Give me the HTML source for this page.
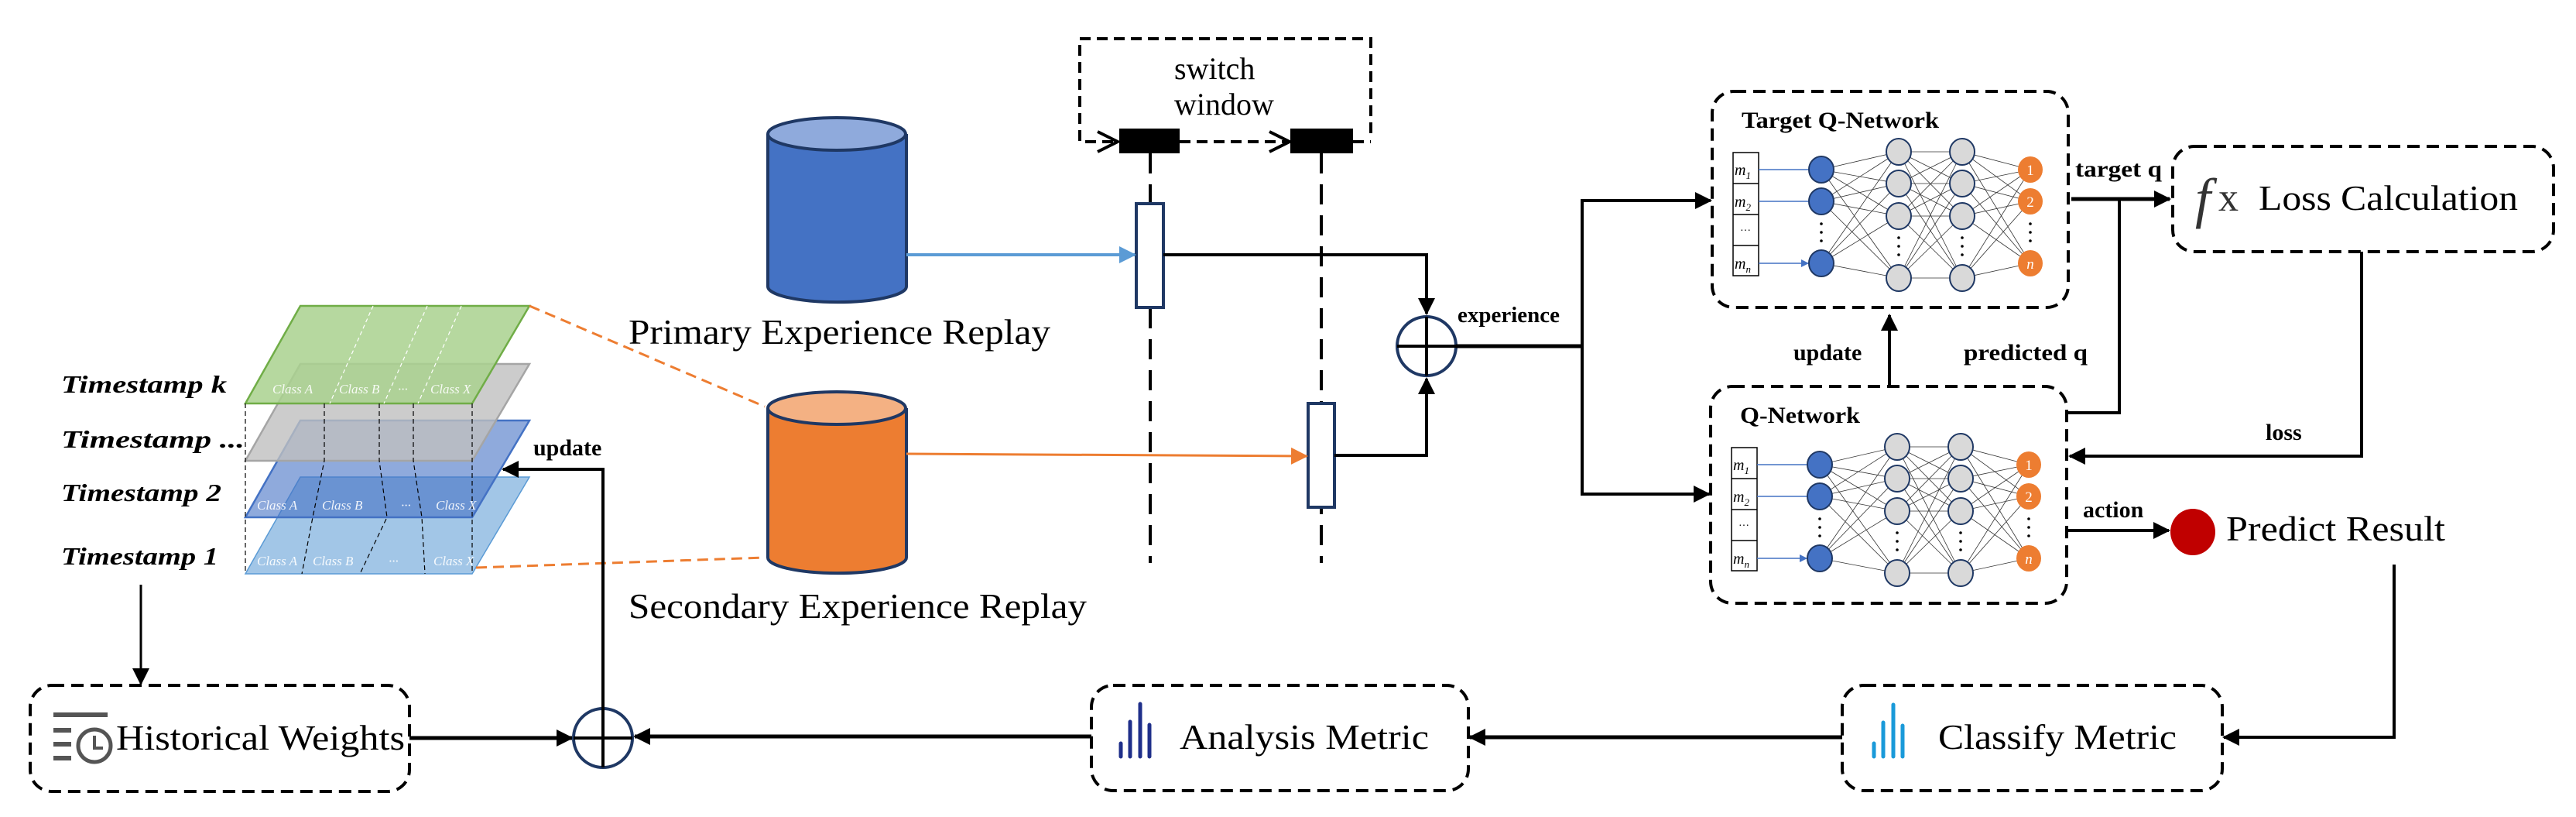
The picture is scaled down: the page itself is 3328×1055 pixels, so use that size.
<!DOCTYPE html>
<html><head><meta charset="utf-8"><style>
html,body{margin:0;padding:0;background:#fff;}
svg{display:block;}
text{font-family:"Liberation Serif",serif;}
</style></head><body>
<svg width="3328" height="1055" viewBox="0 0 3328 1055" xmlns="http://www.w3.org/2000/svg">
<defs>
<marker id="ahb" markerWidth="22" markerHeight="22" refX="20" refY="11" orient="auto" markerUnits="userSpaceOnUse" viewBox="0 0 22 22"><path d="M0 0L22 11L0 22z" fill="#000"/></marker>
<marker id="ahblue" markerWidth="22" markerHeight="22" refX="20" refY="11" orient="auto" markerUnits="userSpaceOnUse" viewBox="0 0 22 22"><path d="M0 0L22 11L0 22z" fill="#5b9bd5"/></marker>
<marker id="ahor" markerWidth="22" markerHeight="22" refX="20" refY="11" orient="auto" markerUnits="userSpaceOnUse" viewBox="0 0 22 22"><path d="M0 0L22 11L0 22z" fill="#ed7d31"/></marker>
<marker id="ahs" markerWidth="10" markerHeight="10" refX="9" refY="5" orient="auto" markerUnits="userSpaceOnUse" viewBox="0 0 10 10"><path d="M0 0L10 5L0 10z" fill="#4472c4"/></marker>
<g id="net">
<path fill="none" stroke="#333" stroke-width="0.8" d="M2353 219L2453 196M2353 219L2453 237M2353 219L2453 279M2353 219L2453 359M2353 260L2453 196M2353 260L2453 237M2353 260L2453 279M2353 260L2453 359M2353 340L2453 196M2353 340L2453 237M2353 340L2453 279M2353 340L2453 359
M2453 196L2535 196M2453 196L2535 237M2453 196L2535 279M2453 196L2535 359M2453 237L2535 196M2453 237L2535 237M2453 237L2535 279M2453 237L2535 359M2453 279L2535 196M2453 279L2535 237M2453 279L2535 279M2453 279L2535 359M2453 359L2535 196M2453 359L2535 237M2453 359L2535 279M2453 359L2535 359
M2535 196L2623 219M2535 196L2623 260M2535 196L2623 340M2535 237L2623 219M2535 237L2623 260M2535 237L2623 340M2535 279L2623 219M2535 279L2623 260M2535 279L2623 340M2535 359L2623 219M2535 359L2623 260M2535 359L2623 340"/>
<rect x="2239" y="197" width="33" height="159" fill="#fff" stroke="#000" stroke-width="1.5"/>
<path d="M2239 237H2272M2239 277H2272M2239 317H2272" stroke="#000" stroke-width="1.5"/>
<path d="M2272 219H2336M2272 260H2336M2272 340H2336" stroke="#4472c4" stroke-width="1.5" marker-end="url(#ahs)"/>
<g fill="#4472c4" stroke="#1f3864" stroke-width="2"><ellipse cx="2353" cy="219" rx="16" ry="17"/><ellipse cx="2353" cy="260" rx="16" ry="17"/><ellipse cx="2353" cy="340" rx="16" ry="17"/></g>
<g fill="#d9d9d9" stroke="#1f3864" stroke-width="2"><ellipse cx="2453" cy="196" rx="16" ry="17"/><ellipse cx="2453" cy="237" rx="16" ry="17"/><ellipse cx="2453" cy="279" rx="16" ry="17"/><ellipse cx="2453" cy="359" rx="16" ry="17"/><ellipse cx="2535" cy="196" rx="16" ry="17"/><ellipse cx="2535" cy="237" rx="16" ry="17"/><ellipse cx="2535" cy="279" rx="16" ry="17"/><ellipse cx="2535" cy="359" rx="16" ry="17"/></g>
<g fill="#ed7d31"><ellipse cx="2623" cy="219" rx="16" ry="17"/><ellipse cx="2623" cy="260" rx="16" ry="17"/><ellipse cx="2623" cy="340" rx="16" ry="17"/></g>
<g fill="#000"><circle cx="2353" cy="289" r="1.8"/><circle cx="2353" cy="300" r="1.8"/><circle cx="2353" cy="311" r="1.8"/><circle cx="2453" cy="307" r="1.8"/><circle cx="2453" cy="318" r="1.8"/><circle cx="2453" cy="329" r="1.8"/><circle cx="2535" cy="307" r="1.8"/><circle cx="2535" cy="318" r="1.8"/><circle cx="2535" cy="329" r="1.8"/><circle cx="2623" cy="289" r="1.8"/><circle cx="2623" cy="300" r="1.8"/><circle cx="2623" cy="311" r="1.8"/></g>
</g>
</defs>

<polygon points="388,616 684,616 610,741 317,741" fill="#9dc3e6" fill-opacity="0.95" stroke="#5b9bd5" stroke-width="1.5"/>
<polygon points="388,543 684,543 610,668 317,668" fill="#4472c4" fill-opacity="0.6" stroke="#4472c4" stroke-width="2.5"/>
<polygon points="388,470 684,470 610,595 317,595" fill="#bfbfbf" fill-opacity="0.8" stroke="#a5a5a5" stroke-width="2.5"/>
<polygon points="388,395 684,395 610,521 317,521" fill="#a9d18e" fill-opacity="0.85" stroke="#70ad47" stroke-width="2.5"/>
<g stroke="#fff" stroke-width="1.2" stroke-dasharray="5 4" fill="none"><path d="M482 395L426 521M552 395L496 521M596 395L540 521"/></g>
<g stroke="#000" stroke-width="1.2" stroke-dasharray="6 4" fill="none"><path d="M419 521V595L404 668L390 741M490 521V595L500 668L465 741M534 521V595L545 668L549 741M610 521V741M317 521V741"/></g>
<g fill="#fff" font-size="17" font-style="italic" fill-opacity="0.9"><text x="352" y="508">Class A</text><text x="438" y="508">Class B</text><text x="514" y="508">···</text><text x="556" y="508">Class X</text>
<text x="332" y="658">Class A</text><text x="416" y="658">Class B</text><text x="518" y="658">···</text><text x="563" y="658">Class X</text>
<text x="332" y="730">Class A</text><text x="404" y="730">Class B</text><text x="502" y="730">···</text><text x="560" y="730">Class X</text></g>
<g font-size="32" font-weight="bold" font-style="italic"><text x="79" y="507" textLength="214" lengthAdjust="spacingAndGlyphs">Timestamp k</text><text x="79" y="578" textLength="237" lengthAdjust="spacingAndGlyphs">Timestamp ...</text><text x="79" y="647" textLength="207" lengthAdjust="spacingAndGlyphs">Timestamp 2</text><text x="79" y="729" textLength="203" lengthAdjust="spacingAndGlyphs">Timestamp 1</text></g>

<path d="M684 395L988 525M615 733L988 720" stroke="#ed7d31" stroke-width="3" stroke-dasharray="14 8" fill="none"/>

<path d="M992 173V370A89 20 0 0 0 1171 370V173" fill="#4472c4" stroke="#1f3864" stroke-width="4"/>
<ellipse cx="1081" cy="173" rx="89" ry="21" fill="#8faadc" stroke="#1f3864" stroke-width="4"/>
<path d="M992 527V720A89 20 0 0 0 1171 720V527" fill="#ed7d31" stroke="#1f3864" stroke-width="4"/>
<ellipse cx="1081" cy="527" rx="89" ry="21" fill="#f4b183" stroke="#1f3864" stroke-width="4"/>
<text x="812" y="444" font-size="46" textLength="545" lengthAdjust="spacingAndGlyphs">Primary Experience Replay</text>
<text x="812" y="798" font-size="46" textLength="592" lengthAdjust="spacingAndGlyphs">Secondary Experience Replay</text>

<path d="M1395 160V50H1771V180" fill="none" stroke="#000" stroke-width="4" stroke-dasharray="14 8"/>
<path d="M1395 168V183H1440M1524 183H1664M1748 183H1771" fill="none" stroke="#000" stroke-width="4" stroke-dasharray="14 8"/>
<path d="M1418 170L1444 183L1418 196M1640 170L1666 183L1640 196" fill="none" stroke="#000" stroke-width="4"/>
<rect x="1446" y="166" width="78" height="32" fill="#000"/>
<rect x="1667" y="166" width="81" height="32" fill="#000"/>
<text x="1517" y="102" font-size="40">switch</text>
<text x="1517" y="148" font-size="40">window</text>
<path d="M1486 198V727M1707 198V727" stroke="#000" stroke-width="4" stroke-dasharray="26 14"/>
<rect x="1468" y="263" width="35" height="134" fill="#fff" stroke="#1f3864" stroke-width="4"/>
<rect x="1690" y="521" width="34" height="134" fill="#fff" stroke="#1f3864" stroke-width="4"/>
<path d="M1171 329H1466" stroke="#5b9bd5" stroke-width="4" marker-end="url(#ahblue)"/>
<path d="M1171 586L1688 589" stroke="#ed7d31" stroke-width="3" marker-end="url(#ahor)"/>
<path d="M1503 329H1843V405" fill="none" stroke="#000" stroke-width="4" marker-end="url(#ahb)"/>
<path d="M1724 588H1843V489" fill="none" stroke="#000" stroke-width="4" marker-end="url(#ahb)"/>
<circle cx="1843" cy="447" r="38" fill="#fff" stroke="#1f3864" stroke-width="4"/>
<path d="M1805 447H1881M1843 409V485" stroke="#000" stroke-width="4"/>
<text x="1883" y="416" font-size="29" font-weight="bold">experience</text>
<path d="M1881 447H2044" stroke="#000" stroke-width="5"/>
<path d="M2044 259V638" stroke="#000" stroke-width="4"/>
<path d="M2042 259H2210" stroke="#000" stroke-width="4" marker-end="url(#ahb)"/>
<path d="M2042 638H2208" stroke="#000" stroke-width="4" marker-end="url(#ahb)"/>

<rect x="2212" y="118" width="460" height="279" rx="28" fill="none" stroke="#000" stroke-width="4" stroke-dasharray="16 9"/>
<rect x="2210" y="499" width="460" height="280" rx="28" fill="none" stroke="#000" stroke-width="4" stroke-dasharray="16 9"/>
<use href="#net"/>
<use href="#net" transform="translate(-2,381)"/>
<text x="2250" y="165" font-size="30" font-weight="bold" textLength="255" lengthAdjust="spacingAndGlyphs">Target Q-Network</text>
<text x="2248" y="546" font-size="30" font-weight="bold" textLength="155" lengthAdjust="spacingAndGlyphs">Q-Network</text>
<g font-size="20" font-style="italic"><text x="2241" y="226">m<tspan font-size="13" dy="5">1</tspan></text><text x="2241" y="267">m<tspan font-size="13" dy="5">2</tspan></text><text x="2241" y="347">m<tspan font-size="13" dy="5">n</tspan></text>
<text x="2239" y="607">m<tspan font-size="13" dy="5">1</tspan></text><text x="2239" y="648">m<tspan font-size="13" dy="5">2</tspan></text><text x="2239" y="728">m<tspan font-size="13" dy="5">n</tspan></text></g>
<g font-size="14"><text x="2248" y="302">···</text><text x="2246" y="683">···</text></g>
<g font-size="19" fill="#fff" text-anchor="middle"><text x="2623" y="226">1</text><text x="2623" y="267">2</text><text x="2623" y="347" font-style="italic">n</text><text x="2621" y="607">1</text><text x="2621" y="648">2</text><text x="2621" y="728" font-style="italic">n</text></g>

<rect x="2807" y="189" width="492" height="136" rx="28" fill="none" stroke="#000" stroke-width="4" stroke-dasharray="16 9"/>
<text x="2836" y="280" font-size="72" font-style="italic" fill="#333">f</text><text x="2866" y="272" font-size="52" fill="#333">x</text>
<text x="2918" y="271" font-size="46" textLength="335" lengthAdjust="spacingAndGlyphs">Loss Calculation</text>
<text x="2681" y="228" font-size="30" font-weight="bold" textLength="112" lengthAdjust="spacingAndGlyphs">target q</text>
<path d="M2676 257H2803" stroke="#000" stroke-width="5" marker-end="url(#ahb)"/>
<path d="M2670 533H2738V257" fill="none" stroke="#000" stroke-width="4"/>
<path d="M3051 325V589H2674" fill="none" stroke="#000" stroke-width="4" marker-end="url(#ahb)"/>
<text x="2927" y="568" font-size="30" font-weight="bold">loss</text>
<path d="M2441 498V407" stroke="#000" stroke-width="4" marker-end="url(#ahb)"/>
<text x="2317" y="465" font-size="30" font-weight="bold">update</text>
<text x="2537" y="465" font-size="30" font-weight="bold" textLength="160" lengthAdjust="spacingAndGlyphs">predicted q</text>
<text x="2691" y="668" font-size="30" font-weight="bold">action</text>
<path d="M2670 685H2802" stroke="#000" stroke-width="4" marker-end="url(#ahb)"/>
<ellipse cx="2833" cy="687" rx="29" ry="30" fill="#c00000"/>
<text x="2876" y="698" font-size="46" textLength="283" lengthAdjust="spacingAndGlyphs">Predict Result</text>
<path d="M3093 729V952H2873" fill="none" stroke="#000" stroke-width="4" marker-end="url(#ahb)"/>

<rect x="2380" y="885" width="491" height="136" rx="28" fill="none" stroke="#000" stroke-width="4" stroke-dasharray="16 9"/>
<g stroke="#1a9ad9" stroke-width="5" stroke-linecap="round"><path d="M2421 960V977M2433 933V977M2446 910V977M2458 937V977"/></g>
<text x="2504" y="967" font-size="46" textLength="308" lengthAdjust="spacingAndGlyphs">Classify Metric</text>
<path d="M2380 952H1899" stroke="#000" stroke-width="5" marker-end="url(#ahb)"/>
<rect x="1410" y="885" width="487" height="136" rx="28" fill="none" stroke="#000" stroke-width="4" stroke-dasharray="16 9"/>
<g stroke="#1f2f8a" stroke-width="5" stroke-linecap="round"><path d="M1448 960V977M1460 932V977M1473 909V977M1485 936V977"/></g>
<text x="1524" y="967" font-size="46" textLength="322" lengthAdjust="spacingAndGlyphs">Analysis Metric</text>
<path d="M1410 951H820" stroke="#000" stroke-width="5" marker-end="url(#ahb)"/>
<rect x="39" y="885" width="490" height="137" rx="28" fill="none" stroke="#000" stroke-width="4" stroke-dasharray="16 9"/>
<g stroke="#555" stroke-width="6"><path d="M69 923H139M69 943H92M69 961H92M69 979H92"/></g>
<circle cx="122" cy="963" r="21" fill="none" stroke="#555" stroke-width="5"/>
<path d="M122 950V966H133" fill="none" stroke="#555" stroke-width="4"/>
<text x="150" y="968" font-size="46" textLength="373" lengthAdjust="spacingAndGlyphs">Historical Weights</text>
<path d="M529 953H739" stroke="#000" stroke-width="5" marker-end="url(#ahb)"/>
<path d="M182 755V883" stroke="#000" stroke-width="3" marker-end="url(#ahb)"/>
<circle cx="779" cy="953" r="38" fill="#fff" stroke="#1f3864" stroke-width="4"/>
<path d="M741 953H817M779 915V991" stroke="#000" stroke-width="4"/>
<path d="M779 915V606H650" fill="none" stroke="#000" stroke-width="4" marker-end="url(#ahb)"/>
<text x="689" y="588" font-size="30" font-weight="bold">update</text>
</svg>
</body></html>
